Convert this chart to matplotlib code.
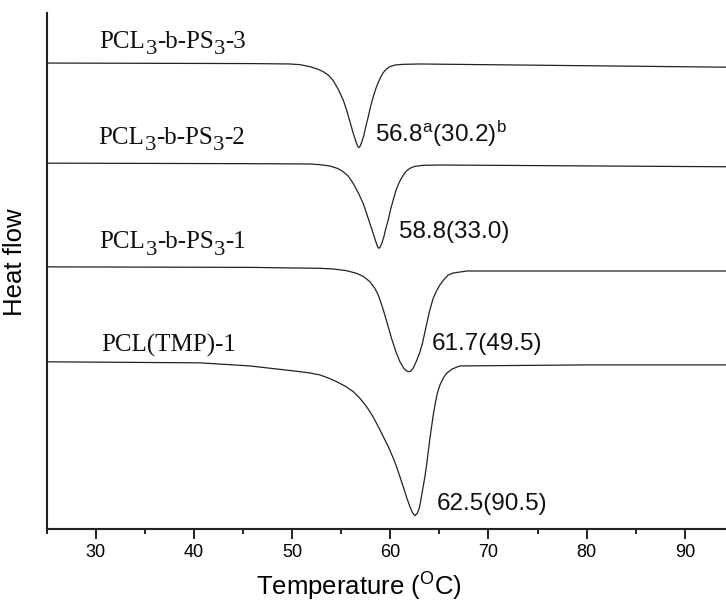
import matplotlib
matplotlib.use("Agg")
import matplotlib.pyplot as plt
from matplotlib.ticker import MultipleLocator

plt.rcParams['font.family'] = ['Liberation Sans', 'DejaVu Sans']
plt.rcParams['mathtext.fontset'] = 'custom'
plt.rcParams['mathtext.rm'] = 'Liberation Sans'
plt.rcParams['mathtext.it'] = 'Liberation Sans:italic'

# DSC traces (temperature in C, heat flow in arbitrary units)
t_ps3 = [25.0, 45.7, 49.78, 50.80, 51.82, 52.67, 53.17, 53.68, 54.19, 54.70, 55.21, 55.55, 55.89, 56.23,
         56.50, 56.67, 56.81, 56.94, 57.11, 57.32, 57.52, 57.76, 57.99, 58.27, 58.54, 58.78, 59.01,
         59.28, 59.62, 59.96, 60.47, 61.32, 63.02, 94.2]
hf_ps3 = [90.3, 90.2, 90.12, 89.99, 89.60, 89.08, 88.63, 87.98, 86.89, 85.21, 83.14, 81.20, 78.94, 76.68,
          75.07, 74.23, 73.90, 74.23, 75.07, 76.36, 78.10, 79.91, 81.85, 83.79, 85.40, 86.56, 87.53,
          88.44, 89.15, 89.60, 89.92, 90.05, 90.12, 89.5]

t_ps2 = [25.0, 45.7, 51.81, 52.83, 53.85, 54.70, 55.20, 55.71, 56.22, 56.73, 57.24, 57.58, 57.92, 58.26,
         58.53, 58.70, 58.84, 58.97, 59.14, 59.35, 59.55, 59.79, 60.02, 60.30, 60.57, 60.81, 61.04,
         61.31, 61.65, 62.00, 62.50, 63.35, 65.05, 94.2]
hf_ps2 = [70.9, 70.8, 70.74, 70.61, 70.35, 69.83, 69.25, 68.41, 66.99, 65.18, 63.11, 61.18, 59.24, 57.30,
          55.69, 54.72, 54.39, 54.65, 55.36, 56.65, 58.27, 59.88, 61.82, 63.76, 65.57, 66.73, 67.64,
          68.54, 69.38, 69.90, 70.28, 70.48, 70.54, 70.2]

t_ps1 = [25.0, 45.7, 52.83, 54.19, 55.55, 56.56, 57.24, 57.92, 58.43, 58.77, 59.11, 59.45, 59.79, 60.13,
         60.57, 60.98, 61.38, 61.66, 61.83, 62.06, 62.33, 62.67, 63.01, 63.28, 63.52, 63.76, 64.03,
         64.37, 64.71, 65.05, 65.46, 65.90, 66.4, 67.8, 80.3, 94.2]
hf_ps1 = [50.8, 50.7, 50.52, 50.39, 50.06, 49.55, 48.97, 47.93, 46.64, 45.35, 43.54, 41.47, 39.21, 36.95,
          34.37, 32.43, 31.14, 30.62, 30.49, 30.55, 31.14, 32.56, 34.24, 35.98, 38.11, 40.18, 42.44,
          44.70, 46.12, 47.29, 48.32, 49.22, 49.6, 50.0, 50.0, 50.0]

t_tmp = [25.0, 40.6, 45.7, 50.80, 51.82, 52.84, 53.69, 54.53, 55.38, 56.23, 56.91, 57.59, 58.20, 58.78,
         59.29, 59.80, 60.24, 60.64, 60.98, 61.32, 61.66, 62.00, 62.24, 62.51, 62.75, 62.95, 63.12,
         63.29, 63.53, 63.70, 63.87, 64.04, 64.21, 64.38, 64.55, 64.79, 65.06, 65.40, 65.74, 66.3,
         67.1, 80.3, 94.2]
hf_tmp = [32.4, 32.2, 31.6, 30.49, 30.23, 29.85, 29.26, 28.55, 27.71, 26.62, 25.32, 23.71, 21.90, 19.83,
          17.89, 15.96, 14.02, 12.08, 10.14, 8.20, 6.14, 4.33, 3.23, 2.58, 3.04, 4.01, 5.62,
          7.56, 10.14, 12.40, 14.99, 17.57, 19.83, 22.09, 24.03, 26.29, 27.91, 29.26, 30.17, 31.0,
          31.6, 31.8, 31.8]

# sample names, split into (text, is_subscript) pieces
names = [
    [('PCL', False), ('3', True), ('-b-PS', False), ('3', True), ('-3', False)],
    [('PCL', False), ('3', True), ('-b-PS', False), ('3', True), ('-2', False)],
    [('PCL', False), ('3', True), ('-b-PS', False), ('3', True), ('-1', False)],
    [('PCL(TMP)-1', False)],
]
name_pos = [(30.4, 93.2), (30.3, 74.6), (30.4, 54.4), (30.6, 34.4)]
peak_labels = [r'56.8$^{\rm a}$(30.2)$^{\rm b}$', '58.8(33.0)', '61.7(49.5)', '62.5(90.5)']
peak_pos = [(58.4, 75.1), (60.9, 56.3), (64.2, 34.7), (64.7, 3.7)]

fig = plt.figure(figsize=(7.26, 6.02), dpi=100)
ax = fig.add_axes([0.0643, 0.1213, 0.9357, 0.8571])

line_color = '#222222'
for t, hf in [(t_ps3, hf_ps3), (t_ps2, hf_ps2), (t_ps1, hf_ps1), (t_tmp, hf_tmp)]:
    ax.plot(t, hf, color=line_color, lw=0.9)

name_size = 18
sub_drop = 4.5
for parts, (x, y) in zip(names, name_pos):
    prev = ax.text(x, y, parts[0][0], family='Liberation Serif', fontsize=name_size,
                   va='baseline', ha='left', color='#111111')
    was_sub = False
    for s, sub in parts[1:]:
        dy = 0
        if sub and not was_sub:
            dy = -sub_drop
        elif was_sub and not sub:
            dy = sub_drop
        prev = ax.annotate(s, xy=(1, 0), xycoords=prev, xytext=(0, dy), textcoords='offset points',
                           family='Liberation Serif', fontsize=name_size * (0.9 if sub else 1.0),
                           va='bottom', ha='left', color='#111111')
        was_sub = sub

for lab, (x, y) in zip(peak_labels, peak_pos):
    ax.text(x, y, lab, fontsize=17.5, va='baseline', ha='left', color='#111111')

ax.set_xlim(25, 94.2)
ax.set_ylim(0, 100)
ax.xaxis.set_major_locator(MultipleLocator(10))
ax.xaxis.set_minor_locator(MultipleLocator(5))
ax.set_yticks([])

for side in ['top', 'right']:
    ax.spines[side].set_visible(False)
for side in ['left', 'bottom']:
    ax.spines[side].set_linewidth(1.5)
    ax.spines[side].set_color('#222222')

ax.tick_params(axis='x', which='major', direction='out', length=7, width=1.4,
               labelsize=13, pad=4, color='#222222')
ax.tick_params(axis='x', which='minor', direction='out', length=3.5, width=1.4, color='#222222')

ax.set_xlabel(r'Temperature ($^{\rm O}$C)', fontsize=18.5)
ax.set_ylabel('Heat flow', fontsize=18.5)
ax.xaxis.set_label_coords(0.46, -0.082)
ax.yaxis.set_label_coords(-0.029, 0.517)

fig.savefig('out.png', dpi=100)
